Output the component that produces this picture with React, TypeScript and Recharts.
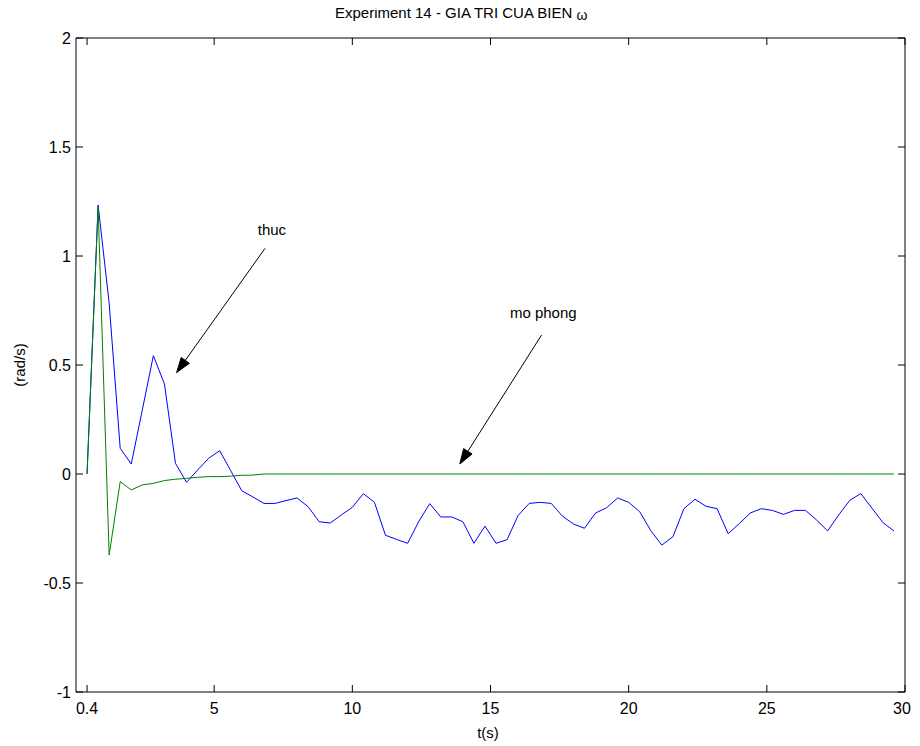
import React from 'react';
import { LineChart, Line, XAxis, YAxis, ReferenceLine, ReferenceDot } from 'recharts';

const timeValues = [
  0.4, 0.8, 1.2, 1.6, 2.0, 2.4, 2.8, 3.2, 3.6, 4.0,
  4.4, 4.8, 5.2, 5.6, 6.0, 6.4, 6.8, 7.2, 7.6, 8.0,
  8.4, 8.8, 9.2, 9.6, 10.0, 10.4, 10.8, 11.2, 11.6, 12.0,
  12.4, 12.8, 13.2, 13.6, 14.0, 14.4, 14.8, 15.2, 15.6, 16.0,
  16.4, 16.8, 17.2, 17.6, 18.0, 18.4, 18.8, 19.2, 19.6, 20.0,
  20.4, 20.8, 21.2, 21.6, 22.0, 22.4, 22.8, 23.2, 23.6, 24.0,
  24.4, 24.8, 25.2, 25.6, 26.0, 26.4, 26.8, 27.2, 27.6, 28.0,
  28.4, 28.8, 29.2, 29.6,
];

const thucValues = [
  0, 1.234, 0.783, 0.118, 0.046, 0.294, 0.543, 0.413, 0.049, -0.038,
  0.018, 0.072, 0.107, 0.015, -0.077, -0.105, -0.135, -0.135, -0.122, -0.11,
  -0.15, -0.219, -0.225, -0.188, -0.153, -0.09, -0.13, -0.281, -0.3, -0.318,
  -0.219, -0.136, -0.197, -0.197, -0.219, -0.318, -0.239, -0.318, -0.301, -0.19,
  -0.135, -0.13, -0.135, -0.193, -0.229, -0.249, -0.179, -0.155, -0.11, -0.13,
  -0.173, -0.26, -0.326, -0.288, -0.159, -0.116, -0.148, -0.159, -0.274, -0.228,
  -0.179, -0.159, -0.167, -0.185, -0.167, -0.167, -0.211, -0.261, -0.188, -0.121,
  -0.09, -0.156, -0.223, -0.261,
];

const moPhongValues = [
  0, 1.225, -0.372, -0.035, -0.073, -0.05, -0.043, -0.03, -0.024, -0.02,
  -0.015, -0.012, -0.012, -0.01, -0.006, -0.005, 0, 0, 0, 0,
  0, 0, 0, 0, 0, 0, 0, 0, 0, 0,
  0, 0, 0, 0, 0, 0, 0, 0, 0, 0,
  0, 0, 0, 0, 0, 0, 0, 0, 0, 0,
  0, 0, 0, 0, 0, 0, 0, 0, 0, 0,
  0, 0, 0, 0, 0, 0, 0, 0, 0, 0,
  0, 0, 0, 0,
];

const xTicks = [0.4, 5, 10, 15, 20, 25, 30];
const yTicks = [-1, -0.5, 0, 0.5, 1, 1.5, 2];
const xDomain = [0, 30];
const yDomain = [-1, 2];

const annotations = [
  { label: 'thuc', tx: 7.09, ty: 1.119, from: { x: 6.84, y: 1.035 }, to: { x: 3.64, y: 0.465 } },
  { label: 'mo phong', tx: 16.91, ty: 0.74, from: { x: 16.85, y: 0.638 }, to: { x: 13.89, y: 0.046 } },
];

const data = timeValues.map((t, i) => ({ t, thuc: thucValues[i], moPhong: moPhongValues[i] }));

const FONT = '"Liberation Sans", Arial, Helvetica, sans-serif';
const TICK_FONT = 16;
const TM = 10;
const TICK_LEN = 7;

const W = 904;
const H = 738;

const fmt = (v: number) => String(v);

const BottomTick = (props: any) => {
  const { x, y, payload } = props;
  const ay = y - TM;
  const tx = Math.min(x, W - 10);
  return (
    <g>
      <line x1={x} x2={x} y1={ay} y2={ay - TICK_LEN} stroke="#000" strokeWidth={1} />
      <text x={tx} y={ay + 22} textAnchor="middle" fontSize={TICK_FONT} fontFamily={FONT} fill="#000">
        {fmt(payload.value)}
      </text>
    </g>
  );
};

const TopTick = (props: any) => {
  const { x, y } = props;
  const ay = y + TM;
  return <line x1={x} x2={x} y1={ay} y2={ay + TICK_LEN} stroke="#000" strokeWidth={1} />;
};

const LeftTick = (props: any) => {
  const { x, y, payload } = props;
  const ax = x + TM;
  return (
    <g>
      <line x1={ax} x2={ax + TICK_LEN} y1={y} y2={y} stroke="#000" strokeWidth={1} />
      <text x={ax - 5} y={y + 6} textAnchor="end" fontSize={TICK_FONT} fontFamily={FONT} fill="#000">
        {fmt(payload.value)}
      </text>
    </g>
  );
};

const RightTick = (props: any) => {
  const { x, y } = props;
  const ax = x - TM;
  return <line x1={ax} x2={ax - TICK_LEN} y1={y} y2={y} stroke="#000" strokeWidth={1} />;
};

const Arrow = (props: any) => {
  const { x1, y1, x2, y2 } = props;
  const dx = x2 - x1;
  const dy = y2 - y1;
  const len = Math.sqrt(dx * dx + dy * dy) || 1;
  const ux = dx / len;
  const uy = dy / len;
  const hl = 15;
  const hw = 5;
  const bx = x2 - ux * hl;
  const by = y2 - uy * hl;
  const px = -uy * hw;
  const py = ux * hw;
  return (
    <g>
      <line x1={x1} y1={y1} x2={bx} y2={by} stroke="#000" strokeWidth={1} />
      <polygon points={`${x2},${y2} ${bx + px},${by + py} ${bx - px},${by - py}`} fill="#000" stroke="#000" />
    </g>
  );
};

const makeLabel = (text: string) => (props: any) => {
  const { cx, cy } = props;
  return (
    <text x={cx} y={cy + 5} textAnchor="middle" fontSize={15} fontFamily={FONT} fill="#000">
      {text}
    </text>
  );
};

export default function App() {
  return (
    <div style={{ position: 'relative', width: W, height: H, background: '#fff' }}>
      <LineChart
        width={W}
        height={H}
        data={data}
        margin={{ top: 29, right: 6, bottom: 53, left: 67 }}
      >
        <XAxis
          xAxisId="b"
          dataKey="t"
          type="number"
          domain={xDomain}
          ticks={xTicks}
          interval={0}
          height={1}
          tickSize={0}
          tickMargin={TM}
          tickLine={false}
          tick={<BottomTick />}
          axisLine={{ stroke: '#000', strokeWidth: 1 }}
          allowDataOverflow
        />
        <XAxis
          xAxisId="top"
          orientation="top"
          dataKey="t"
          type="number"
          domain={xDomain}
          ticks={xTicks}
          interval={0}
          height={1}
          tickSize={0}
          tickMargin={TM}
          tickLine={false}
          tick={<TopTick />}
          axisLine={{ stroke: '#000', strokeWidth: 1 }}
          allowDataOverflow
        />
        <YAxis
          yAxisId="l"
          type="number"
          domain={yDomain}
          ticks={yTicks}
          interval={0}
          width={1}
          tickSize={0}
          tickMargin={TM}
          tickLine={false}
          tick={<LeftTick />}
          axisLine={{ stroke: '#000', strokeWidth: 1 }}
          allowDataOverflow
        />
        <YAxis
          yAxisId="r"
          orientation="right"
          type="number"
          domain={yDomain}
          ticks={yTicks}
          interval={0}
          width={1}
          tickSize={0}
          tickMargin={TM}
          tickLine={false}
          tick={<RightTick />}
          axisLine={{ stroke: '#000', strokeWidth: 1 }}
          allowDataOverflow
        />
        <Line
          xAxisId="b"
          yAxisId="l"
          type="linear"
          dataKey="thuc"
          stroke="#0000ff"
          strokeWidth={1}
          dot={false}
          isAnimationActive={false}
        />
        <Line
          xAxisId="top"
          yAxisId="r"
          type="linear"
          dataKey="moPhong"
          stroke="#008000"
          strokeWidth={1}
          dot={false}
          isAnimationActive={false}
        />
        {annotations.map((a) => (
          <ReferenceLine
            key={'l' + a.label}
            xAxisId="b"
            yAxisId="l"
            segment={[a.from, a.to]}
            shape={Arrow}
            ifOverflow="visible"
          />
        ))}
        {annotations.map((a) => (
          <ReferenceDot
            key={'d' + a.label}
            xAxisId="b"
            yAxisId="l"
            x={a.tx}
            y={a.ty}
            r={0}
            shape={makeLabel(a.label)}
            ifOverflow="visible"
          />
        ))}
      </LineChart>
      <svg
        width={W}
        height={H}
        style={{ position: 'absolute', left: 0, top: 0, pointerEvents: 'none', overflow: 'visible' }}
      >
        <text x={327} y={10} fontSize={15} fontFamily={FONT} fill="#000">
          Experiment 14 - GIA TRI CUA BIEN <tspan fontSize={14} dy={2}>ω</tspan>
        </text>
        <text x={480} y={730} textAnchor="middle" fontSize={15} fontFamily={FONT} fill="#000">
          t(s)
        </text>
        <text
          x={17}
          y={357}
          textAnchor="middle"
          fontSize={15}
          fontFamily={FONT}
          fill="#000"
          transform="rotate(-90 17 357)"
        >
          (rad/s)
        </text>
      </svg>
    </div>
  );
}
